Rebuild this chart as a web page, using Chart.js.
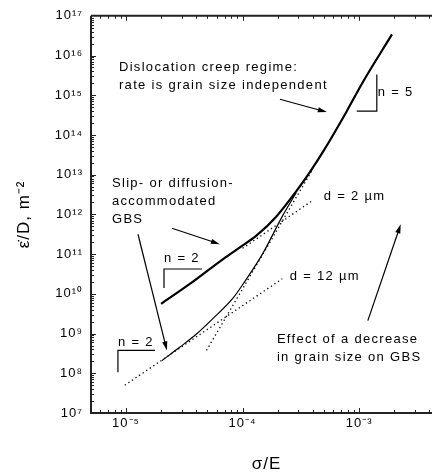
<!DOCTYPE html>
<html>
<head>
<meta charset="utf-8">
<script src="https://cdn.jsdelivr.net/npm/chart.js@4.4.1/dist/chart.umd.min.js"></script>
<style>
  html, body { margin: 0; padding: 0; background: #fff; overflow: hidden; }
  #wrap { width: 442px; height: 475px; }
</style>
</head>
<body>
<div id="wrap"><canvas id="chart" width="442" height="475"></canvas></div>
<script>
'use strict';

// ── Data (σ/E on x, ε̇/D on y) ───────────────────────────────────────────────

// thick curve: total rate, d = 2 µm
const fineStress = [2.00e-5, 3.55e-5, 6.76e-5, 9.55e-5, 1.32e-4, 1.95e-4, 2.88e-4, 3.80e-4, 4.90e-4, 7.76e-4, 1.07e-3, 1.91e-3];
const fineRate   = [5.6e9,   1.8e10,  7.4e10,  1.5e11,  2.95e11, 8.9e11,  3.8e12,  1.2e13,  3.8e13,  3.8e14,  2.1e15,  3.4e16];

// thin curve: total rate, d = 12 µm
const coarseStress = [2.04e-5, 2.88e-5, 4.07e-5, 5.50e-5, 8.30e-5, 1.05e-4, 1.48e-4, 2.19e-4, 2.88e-4];
const coarseRate   = [2.1e8,   4.5e8,   1.0e9,   2.3e9,   7.9e9,   2.1e10,  1.0e11,  8.9e11,  3.5e12];

// dotted component lines
const gbs12Stress = [9.77e-6, 2.19e-4];
const gbs12Rate   = [5.0e7,   2.4e10];
const gbs2Stress  = [1.00e-4, 3.98e-4];
const gbs2Rate    = [1.4e11,  2.24e12];
const dislStress  = [4.90e-5, 3.98e-4];
const dislRate    = [3.76e8,  1.35e13];

// axis ticks (decades)
const xTicks = [1e-5, 1e-4, 1e-3];
const yTicks = [1e7, 1e8, 1e9, 1e10, 1e11, 1e12, 1e13, 1e14, 1e15, 1e16, 1e17];

// ── Annotations (positions given as log10 of data values) ───────────────────

const notes = [
  { lines: ['Dislocation creep regime:', 'rate is grain size independent'], at: [-5.06, 15.70] },
  { lines: ['Slip- or diffusion-', 'accommodated', 'GBS'], at: [-5.12, 12.78] },
  { lines: ['Effect of a decrease', 'in grain size on GBS'], at: [-3.706, 8.85] },
  { lines: ['n = 5'], at: [-2.841, 15.075] },
  { lines: ['n = 2'], at: [-4.674, 10.90] },
  { lines: ['n = 2'], at: [-5.069, 8.775] },
  { lines: ['d = 2 µm'], at: [-3.303, 12.45] },
  { lines: ['d = 12 µm'], at: [-3.595, 10.45] },
];

const arrows = [
  [[-3.680, 14.90], [-3.278, 14.575]],
  [[-4.606, 11.65], [-4.195, 11.25]],
  [[-4.897, 11.50], [-4.649, 8.575]],
  [[-2.926, 9.325], [-2.644, 11.75]],
];

const slopeMarks = [
  [[-3.021, 14.60], [-2.849, 14.60], [-2.849, 15.525]],
  [[-4.674, 10.15], [-4.674, 10.625], [-4.349, 10.625]],
  [[-5.069, 8.025], [-5.069, 8.575], [-4.751, 8.575]],
];

// ── Helpers ─────────────────────────────────────────────────────────────────

const SUP = { '-': '⁻', '0': '⁰', '1': '¹', '2': '²', '3': '³', '4': '⁴',
              '5': '⁵', '6': '⁶', '7': '⁷', '8': '⁸', '9': '⁹' };

function powLabel(v) {
  const e = Math.round(Math.log10(v));
  return '10' + String(e).split('').map(c => SUP[c]).join('');
}

function pts(xs, ys) {
  return xs.map((x, i) => ({ x: x, y: ys[i] }));
}

function line(xs, ys, width, dash) {
  return {
    data: pts(xs, ys),
    showLine: true,
    borderColor: '#000',
    borderWidth: width,
    borderDash: dash || [],
    pointRadius: 0,
    cubicInterpolationMode: 'monotone',
    fill: false,
  };
}

const FONT = '13px "Liberation Sans", Arial, sans-serif';

// ── Plugins ─────────────────────────────────────────────────────────────────

const spacing = {
  id: 'spacing',
  beforeDraw(chart) { chart.ctx.letterSpacing = '1px'; },
};

// axis frame with inward major/minor ticks
const frame = {
  id: 'frame',
  afterDraw(chart) {
    const { ctx, chartArea: a, scales: { x, y } } = chart;
    ctx.save();
    ctx.strokeStyle = '#222';
    ctx.lineWidth = 2;
    ctx.beginPath();
    ctx.moveTo(a.left, a.top); ctx.lineTo(a.left, a.bottom); ctx.lineTo(a.right + 2, a.bottom);
    ctx.moveTo(a.left, a.top); ctx.lineTo(a.right + 2, a.top);
    ctx.stroke();

    ctx.lineWidth = 1;
    ctx.beginPath();
    for (let e = 7; e <= 16; e++) {
      for (let m = 1; m <= 9; m++) {
        const py = Math.round(y.getPixelForValue(m * 10 ** e)) + 0.5;
        if (py < a.top || py > a.bottom) continue;
        const len = m === 1 ? 5 : 3;
        ctx.moveTo(a.left, py); ctx.lineTo(a.left + len, py);
      }
    }
    for (let e = -6; e <= -3; e++) {
      for (let m = 1; m <= 9; m++) {
        const px = Math.round(x.getPixelForValue(m * 10 ** e)) + 0.5;
        if (px < a.left || px > a.right) continue;
        const len = m === 1 ? 5 : 3;
        ctx.moveTo(px, a.bottom); ctx.lineTo(px, a.bottom - len);
        ctx.moveTo(px, a.top); ctx.lineTo(px, a.top + len);
      }
    }
    ctx.stroke();
    ctx.restore();
  },
};

// texts, arrows and slope triangles
const remarks = {
  id: 'remarks',
  afterDatasetsDraw(chart) {
    const { ctx, scales: { x, y } } = chart;
    const P = p => [x.getPixelForValue(10 ** p[0]), y.getPixelForValue(10 ** p[1])];
    ctx.save();
    ctx.strokeStyle = '#000';
    ctx.fillStyle = '#000';
    ctx.lineWidth = 1.2;

    slopeMarks.forEach(s => {
      ctx.beginPath();
      s.map(P).forEach(([px, py], i) => i ? ctx.lineTo(px, py) : ctx.moveTo(px, py));
      ctx.stroke();
    });

    arrows.forEach(([from, to]) => {
      const [x0, y0] = P(from);
      const [x1, y1] = P(to);
      const ang = Math.atan2(y1 - y0, x1 - x0);
      ctx.beginPath();
      ctx.moveTo(x0, y0);
      ctx.lineTo(x1 - 6 * Math.cos(ang), y1 - 6 * Math.sin(ang));
      ctx.stroke();
      ctx.beginPath();
      ctx.moveTo(x1, y1);
      ctx.lineTo(x1 - 9 * Math.cos(ang) + 2.6 * Math.sin(ang), y1 - 9 * Math.sin(ang) - 2.6 * Math.cos(ang));
      ctx.lineTo(x1 - 9 * Math.cos(ang) - 2.6 * Math.sin(ang), y1 - 9 * Math.sin(ang) + 2.6 * Math.cos(ang));
      ctx.closePath();
      ctx.fill();
    });

    ctx.font = FONT;
    ctx.letterSpacing = '1.3px';
    ctx.textAlign = 'left';
    ctx.textBaseline = 'middle';
    notes.forEach(n => {
      const [px, py] = P(n.at);
      n.lines.forEach((t, i) => ctx.fillText(t, px, py + i * 17.8));
    });
    ctx.restore();
  },
};

// ── Chart ───────────────────────────────────────────────────────────────────

new Chart(document.getElementById('chart'), {
  type: 'scatter',
  data: {
    datasets: [
      line(gbs12Stress, gbs12Rate, 1.3, [1.3, 3]),
      line(gbs2Stress, gbs2Rate, 1.3, [1.3, 3]),
      line(dislStress, dislRate, 1.3, [1.3, 3]),
      line(coarseStress, coarseRate, 1.2),
      line(fineStress, fineRate, 2.2),
    ],
  },
  options: {
    responsive: false,
    animation: false,
    events: [],
    layout: { padding: { top: 14, right: 0, bottom: 0, left: 0 } },
    plugins: {
      legend: { display: false },
      tooltip: { enabled: false },
    },
    scales: {
      x: {
        type: 'logarithmic',
        bounds: 'data',
        min: 10 ** -5.3,
        max: 10 ** -2.29,
        grid: { display: false, drawTicks: false },
        border: { display: false },
        afterBuildTicks: s => { s.ticks = xTicks.map(v => ({ value: v })); },
        afterFit: s => { s.height = 62; },
        ticks: {
          autoSkip: false,
          maxRotation: 0,
          padding: 3,
          color: '#000',
          font: { family: '"Liberation Sans", Arial, sans-serif', size: 13 },
          callback: v => powLabel(v),
        },
        title: {
          display: true,
          text: 'σ/E',
          color: '#000',
          font: { family: '"Liberation Sans", Arial, sans-serif', size: 17 },
          padding: { top: 0, bottom: 0 },
        },
      },
      y: {
        type: 'logarithmic',
        bounds: 'data',
        min: 1e7,
        max: 1e17,
        grid: { display: false, drawTicks: false },
        border: { display: false },
        afterBuildTicks: s => { s.ticks = yTicks.map(v => ({ value: v })); },
        afterFit: s => { s.width = 91; },
        ticks: {
          autoSkip: false,
          padding: 8,
          color: '#000',
          font: { family: '"Liberation Sans", Arial, sans-serif', size: 13 },
          callback: v => powLabel(v),
        },
        title: {
          display: true,
          text: 'ε̇/D, m⁻²',
          color: '#000',
          font: { family: '"Liberation Sans", Arial, sans-serif', size: 17 },
          padding: { top: 14, bottom: 0 },
        },
      },
    },
  },
  plugins: [spacing, frame, remarks],
});
</script>
</body>
</html>
